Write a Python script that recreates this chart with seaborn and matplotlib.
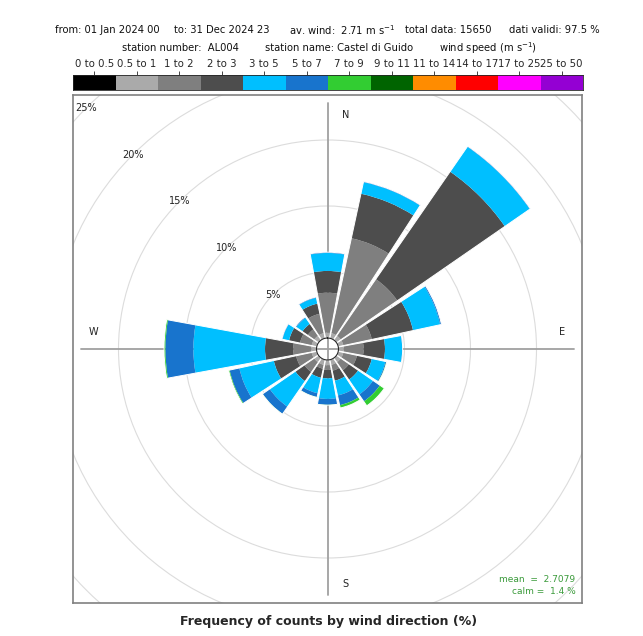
import numpy as np
import matplotlib.pyplot as plt
from matplotlib.colors import ListedColormap
from matplotlib.patches import Circle
import seaborn as sns

# wind rose for Castel di Guido (AL004), 2024 - frequencies in % per direction / speed class

directions = ['N', 'NNE', 'NE', 'ENE', 'E', 'ESE', 'SE', 'SSE',
              'S', 'SSW', 'SW', 'WSW', 'W', 'WNW', 'NW', 'NNW']

speed_bins = ['0 to 0.5', '0.5 to 1', '1 to 2', '2 to 3', '3 to 5', '5 to 7',
              '7 to 9', '9 to 11', '11 to 14', '14 to 17', '17 to 25', '25 to 50']
bin_colors = ['#000000', '#aaaaaa', '#7f7f7f', '#4d4d4d', '#00bfff', '#1874cd',
              '#32cd32', '#006400', '#ff8c00', '#ff0000', '#ff00ff', '#9400d3']

# one list per speed class, values in the order of `directions`
f_0_05 = [0] * 16
f_05_1 = [0.4, 0.4, 0.4, 0.4, 0.4, 0.4, 0.4, 0.4, 0.4, 0.4, 0.4, 0.4, 0.4, 0.4, 0.4, 0.4]
f_1_2 = [3.03, 7.35, 5.2, 2.2, 1.5, 1.05, 0.75, 0.45, 0.35, 0.3, 0.9, 1.2, 1.36, 0.9, 0.6, 1.5]
f_2_3 = [1.65, 3.45, 9.9, 3.2, 1.62, 1.15, 0.85, 0.78, 0.64, 0.7, 0.84, 1.73, 2.14, 0.85, 0.49, 0.79]
f_3_5 = [1.36, 0.9, 2.3, 2.1, 1.31, 1.05, 1.37, 1.14, 1.56, 1.2, 2.35, 2.67, 5.43, 0.5, 0.56, 0.45]
f_5_7 = [0.06, 0.05, 0.05, 0.1, 0.03, 0.07, 0.63, 0.75, 0.45, 0.3, 0.66, 0.75, 2.12, 0.05, 0.08, 0.06]
f_7_9 = [0, 0, 0, 0, 0, 0.04, 0.4, 0.22, 0.02, 0.02, 0.02, 0.08, 0.1, 0, 0, 0]
f_9_11 = [0] * 16
f_11_14 = [0] * 16
f_14_17 = [0] * 16
f_17_25 = [0] * 16
f_25_50 = [0] * 16

freqs = [f_0_05, f_05_1, f_1_2, f_2_3, f_3_5, f_5_7, f_7_9,
         f_9_11, f_11_14, f_14_17, f_17_25, f_25_50]

rings = [5, 10, 15, 20, 25]
mean_ws = 2.7079
calm_pct = 1.4

sns.set_style('white')
plt.rcParams['font.family'] = ['DejaVu Sans']

W, H = 643, 636
fig = plt.figure(figsize=(W / 100, H / 100), dpi=100)


def fx(x):
    return x / W


def fy(y):
    return 1 - y / H


px_per_pct = 13.2          # radial scale of the rose
hole = 11 / px_per_pct     # empty disc in the middle, in % units

# square panel (pixel units, centre of the rose at 0,0)
cx, cy = 327.5, 349.0
frame = fig.add_axes([fx(73), fy(603), 509 / W, 508 / H], zorder=0)
frame.set_xlim(73 - cx, 582 - cx)
frame.set_ylim(cy - 603, cy - 95)
frame.set_xticks([])
frame.set_yticks([])
for sp in frame.spines.values():
    sp.set_color('#808080')
    sp.set_linewidth(1.2)
for r in rings:
    c = Circle((0, 0), px_per_pct * (r + hole), fill=False,
               edgecolor='#dcdcdc', linewidth=0.8, zorder=0.5)
    frame.add_patch(c)
    c.set_clip_path(frame.patch)
frame.plot([-246.5, 246.5], [0, 0], color='#a0a0a0', lw=1.3, zorder=1)
frame.plot([0, 0], [-246, 246], color='#a0a0a0', lw=1.3, zorder=1)
for lab, (tx, ty) in zip(['N', 'E', 'S', 'W'],
                         [(18.5, 234), (234.5, 17), (17.5, -235), (-234.5, 17)]):
    frame.text(tx, ty, lab, fontsize=7, color='#222222', ha='center', va='center')

# polar axes for the rose, centred on the panel
rmax = 20
R = px_per_pct * (rmax + hole)
ax = fig.add_axes([fx(cx - R), fy(cy + R), 2 * R / W, 2 * R / H],
                  projection='polar', zorder=1)
ax.set_facecolor('none')
ax.spines['polar'].set_visible(False)
ax.set_theta_zero_location('N')
ax.set_theta_direction(-1)
ax.set_rorigin(-hole)
ax.set_ylim(0, rmax)
ax.set_xticks([])
ax.set_yticks([])
ax.grid(False)

theta = np.deg2rad(np.arange(len(directions)) * 360 / len(directions))
sector = 2 * np.pi / len(directions)
paddle = sector * 0.92
bottom = np.zeros(len(directions))
for vals, col in zip(freqs, bin_colors):
    vals = np.array(vals, dtype=float)
    ax.bar(theta, vals, width=paddle, bottom=bottom, color=col,
           edgecolor='none', linewidth=0, zorder=1)
    bottom += vals
# white outline round each whole paddle
ax.bar(theta, bottom, width=paddle, bottom=0, fill=False,
       edgecolor='white', linewidth=0.7, zorder=2)

# ring labels along the NW diagonal
for r in rings:
    d = px_per_pct * (r + hole) / np.sqrt(2)
    frame.text(-d, d, f'{r}%', fontsize=7, color='#222222',
               ha='center', va='center', zorder=3)

frame.text(248, -231, f'mean  =  {mean_ws}', fontsize=6.5, color='#3a9a3a', ha='right', va='center')
frame.text(248, -243, f'calm =  {calm_pct} %', fontsize=6.5, color='#3a9a3a', ha='right', va='center')

# colour key for the speed classes
cax = fig.add_axes([fx(73), fy(90), 510 / W, 15 / H])
sns.heatmap(np.arange(len(speed_bins)).reshape(1, -1), cmap=ListedColormap(bin_colors),
            cbar=False, ax=cax, xticklabels=speed_bins, yticklabels=False)
cax.xaxis.tick_top()
cax.tick_params(axis='x', length=3, width=0.6, pad=1, labelsize=7.3, labelrotation=0)
for sp in cax.spines.values():
    sp.set_visible(True)
    sp.set_linewidth(0.6)

# header lines
hdr = dict(fontsize=7.2, ha='left', va='center', color='#111111')
for x, s in [(55, 'from: 01 Jan 2024 00'), (174, 'to: 31 Dec 2024 23'),
             (289, r'av. wind:  2.71 m s$^{-1}$'), (405, 'total data: 15650'),
             (509, 'dati validi: 97.5 %')]:
    fig.text(fx(x), fy(30), s, **hdr)
for x, s in [(122, 'station number:  AL004'), (265, 'station name: Castel di Guido'),
             (439, r'wind speed (m s$^{-1}$)')]:
    fig.text(fx(x), fy(48), s, **hdr)

fig.text(fx(329), fy(621), 'Frequency of counts by wind direction (%)',
         fontsize=9, fontweight='bold', ha='center', va='center')

fig.savefig('out.png', dpi=100)
